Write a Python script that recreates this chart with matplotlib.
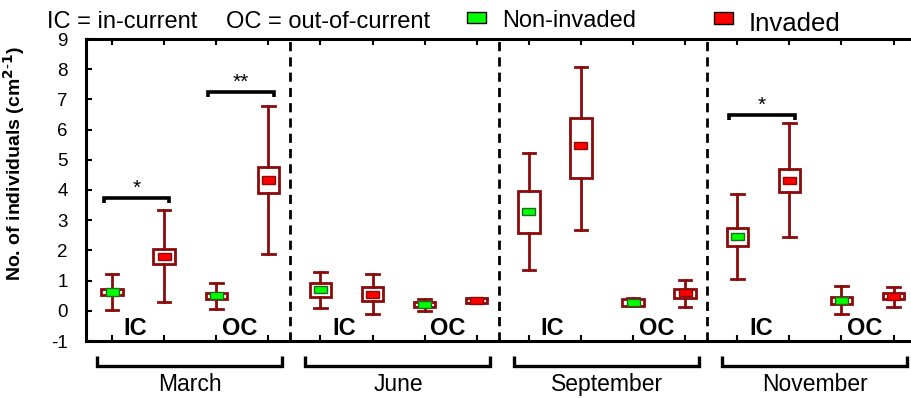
import matplotlib
matplotlib.use("Agg")
import matplotlib.pyplot as plt
from matplotlib.patches import Rectangle

plt.rcParams['font.family'] = ['Liberation Sans', 'DejaVu Sans']

months = ['March', 'June', 'September', 'November']
site_labels = ['IC', 'OC']
# order in each month: IC non-invaded, IC invaded, OC non-invaded, OC invaded
whisk_lo = [0.04, 0.28, 0.07, 1.88,  0.08, -0.12, 0.00, 0.26,  1.34, 2.66, 0.15, 0.14,  1.04, 2.43, -0.12, 0.14]
q1       = [0.51, 1.55, 0.40, 3.91,  0.47, 0.33, 0.12, 0.26,  2.57, 4.41, 0.17, 0.42,  2.16, 3.92, 0.23, 0.38]
means    = [0.62, 1.79, 0.50, 4.33,  0.71, 0.55, 0.20, 0.35,  3.30, 5.47, 0.27, 0.60,  2.47, 4.32, 0.33, 0.47]
q3       = [0.73, 2.05, 0.58, 4.77,  0.92, 0.80, 0.29, 0.44,  3.98, 6.37, 0.38, 0.73,  2.73, 4.69, 0.45, 0.58]
whisk_hi = [1.22, 3.34, 0.91, 6.78,  1.29, 1.22, 0.39, 0.44,  5.21, 8.08, 0.41, 1.02,  3.86, 6.21, 0.82, 0.79]
groups   = ['Non-invaded', 'Invaded'] * 8

sig_pairs = [(1, 2), (3, 4), (13, 14)]
sig_y = [3.73, 7.24, 6.48]
sig_text = ['*', '**', '*']

yticks = list(range(-1, 10))

box_color = '#8B0A0A'
fill_colors = {'Non-invaded': '#00FF00', 'Invaded': '#FF0000'}
edge_colors = {'Non-invaded': '#1E6B1E', 'Invaded': '#8B0A0A'}

W, H = 911, 398
fig = plt.figure(figsize=(W / 100, H / 100), dpi=100)
ax = fig.add_axes([86 / W, 1 - 341 / H, (919.6 - 86) / W, (341 - 39) / H])

positions = list(range(1, len(means) + 1))
stats = []
for i in range(len(means)):
    stats.append(dict(whislo=whisk_lo[i], q1=q1[i], med=means[i], q3=q3[i],
                      whishi=whisk_hi[i], fliers=[]))
ax.bxp(stats, positions=positions, widths=0.41, capwidths=0.24, showfliers=False,
       patch_artist=True,
       boxprops=dict(facecolor='white', edgecolor=box_color, linewidth=2.0),
       whiskerprops=dict(color=box_color, linewidth=2.0),
       capprops=dict(color=box_color, linewidth=2.0),
       medianprops=dict(visible=False))

mw, mh = 0.25, 0.24
for p, m, g in zip(positions, means, groups):
    ax.add_patch(Rectangle((p - mw / 2, m - mh / 2), mw, mh,
                           facecolor=fill_colors[g], edgecolor=edge_colors[g],
                           linewidth=1.0, zorder=5))

# month separators
for k in range(1, len(months)):
    ax.axvline(4 * k + 0.42, color='black', lw=2.0, ls=(0, (3.3, 2.2)), zorder=1)

# significance brackets
for (a, b), yv, t in zip(sig_pairs, sig_y, sig_text):
    xa, xb = a - 0.15, b + 0.1
    ax.plot([xa, xa, xb, xb], [yv - 0.17, yv, yv, yv - 0.17], color='black',
            lw=2.6, solid_joinstyle='miter', solid_capstyle='butt', zorder=6)
    ax.text((xa + xb) / 2, yv + 0.02, t, ha='center', va='bottom', fontsize=15)

# IC / OC labels and month brackets
for k, mname in enumerate(months):
    base = 4 * k
    for j, s in enumerate(site_labels):
        ax.text(base + 1.45 + 2 * j, -0.80, s, ha='center', va='baseline',
                fontsize=17, fontweight='bold')
    c = base + 2.5
    xa, xb = c - 1.79, c + 1.76
    ax.plot([xa, xa, xb, xb], [-1.50, -1.84, -1.84, -1.50], color='black', lw=2.4,
            solid_joinstyle='miter', solid_capstyle='butt', clip_on=False)
    ax.text(c, -2.65, mname, ha='center', va='baseline', fontsize=16.5)

ax.set_xlim(0.5, 16.5)
ax.set_ylim(-1, 9)
ax.set_xticks(positions)
ax.set_xticklabels([])
ax.set_yticks(yticks)
ax.set_yticklabels([str(v) for v in yticks], fontsize=13.5)
ax.tick_params(axis='x', direction='in', top=True, bottom=True, length=4, width=1.5)
ax.tick_params(axis='y', direction='in', left=True, right=False, length=4, width=1.5, pad=13)
for s in ['left', 'top', 'bottom']:
    ax.spines[s].set_linewidth(2.2)
ax.spines['right'].set_visible(False)

ax.set_ylabel('No. of individuals (cm$^{\\mathbf{2\\text{-}1}}$)', fontsize=14,
              fontweight='bold')
ax.yaxis.set_label_coords(-(86 - 27) / (919.6 - 86), (341 - 164) / (341 - 39))

# header
fig.text(47 / W, 1 - 28 / H, 'IC = in-current', fontsize=17, va='baseline')
fig.text(226 / W, 1 - 28 / H, 'OC = out-of-current', fontsize=17, va='baseline')
fig.patches.append(Rectangle((467 / W, 1 - 23 / H), 19 / W, 11 / H, transform=fig.transFigure,
                             facecolor='#00FF00', edgecolor='black', lw=1.0, figure=fig))
fig.text(502 / W, 1 - 27 / H, 'Non-invaded', fontsize=17, va='baseline')
fig.patches.append(Rectangle((714 / W, 1 - 24 / H), 19 / W, 12 / H, transform=fig.transFigure,
                             facecolor='#FF0000', edgecolor='black', lw=1.0, figure=fig))
fig.text(749 / W, 1 - 31 / H, 'Invaded', fontsize=18.5, va='baseline')

fig.savefig('out.png', dpi=100)
